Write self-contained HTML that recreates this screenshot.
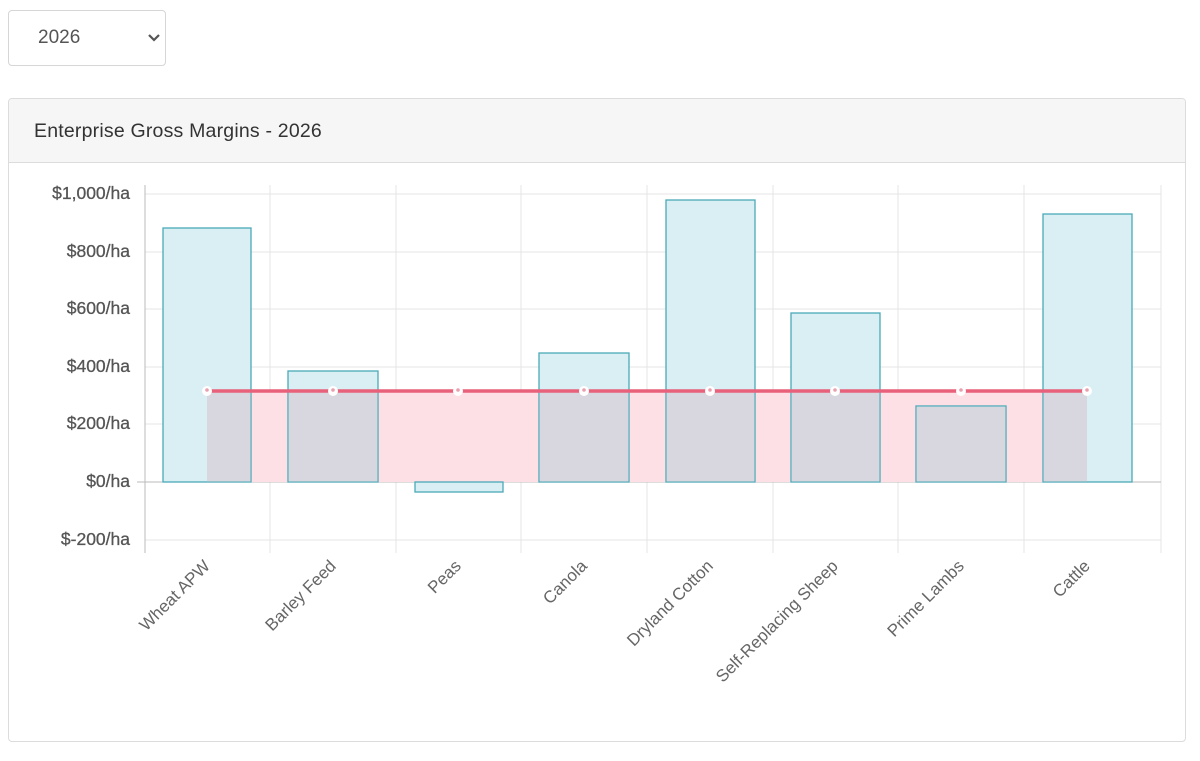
<!DOCTYPE html>
<html><head><meta charset="utf-8"><style>
body{margin:0;background:#fff;width:1200px;height:761px;overflow:hidden;font-family:"Liberation Sans",sans-serif;}
.sel{position:absolute;left:8px;top:10px;width:158px;height:56px;border:1px solid #d6d6d6;border-radius:4px;box-sizing:border-box;}
.sel span{position:absolute;left:29px;top:16px;font-size:19px;color:#555;}
.card{position:absolute;left:8px;top:98px;width:1178px;height:644px;border:1px solid #dcdcdc;border-radius:4px;box-sizing:border-box;overflow:hidden;}
.hd{height:63px;background:#f6f6f6;border-bottom:1px solid #dcdcdc;font-size:19.5px;color:#333;padding-left:25px;line-height:64px;letter-spacing:0.2px;}
svg{position:absolute;left:0;top:0;}
</style></head><body>
<div class="sel"><span>2026</span><svg width="158" height="56"><path d="M140 24 L145 29 L150 24" fill="none" stroke="#555" stroke-width="2.2"/></svg></div>
<div class="card"><div class="hd">Enterprise Gross Margins - 2026</div></div>
<svg width="1200" height="761" font-family="Liberation Sans, sans-serif">
<g stroke="#e4e4e4" stroke-width="1">
<line x1="145" y1="194" x2="1161" y2="194"/><line x1="145" y1="252" x2="1161" y2="252"/><line x1="145" y1="309" x2="1161" y2="309"/><line x1="145" y1="367" x2="1161" y2="367"/><line x1="145" y1="424" x2="1161" y2="424"/><line x1="145" y1="540" x2="1161" y2="540"/>
<line x1="270" y1="185" x2="270" y2="553"/><line x1="396" y1="185" x2="396" y2="553"/><line x1="521" y1="185" x2="521" y2="553"/><line x1="647" y1="185" x2="647" y2="553"/><line x1="773" y1="185" x2="773" y2="553"/><line x1="898" y1="185" x2="898" y2="553"/><line x1="1024" y1="185" x2="1024" y2="553"/><line x1="1161" y1="185" x2="1161" y2="553"/>
</g>
<line x1="145" y1="185" x2="145" y2="553" stroke="#bbb"/>
<line x1="137" y1="482" x2="1161" y2="482" stroke="#bbb"/>
<g fill="#555" font-size="17.5" text-anchor="end" stroke="#555" stroke-width="0.3">
<text x="130" y="199">$1,000/ha</text><text x="130" y="257">$800/ha</text><text x="130" y="314">$600/ha</text><text x="130" y="372">$400/ha</text><text x="130" y="429">$200/ha</text><text x="130" y="487">$0/ha</text><text x="130" y="545">$-200/ha</text>
</g>
<rect x="207" y="391" width="880" height="91" fill="#fde0e6"/>
<g fill="#d9eff4" stroke="#4aa9b8" stroke-width="1.3">
<rect x="163" y="228" width="88" height="254"/><rect x="288" y="371" width="90" height="111"/><rect x="415" y="482" width="88" height="10"/><rect x="539" y="353" width="90" height="129"/><rect x="666" y="200" width="89" height="282"/><rect x="791" y="313" width="89" height="169"/><rect x="916" y="406" width="90" height="76"/><rect x="1043" y="214" width="89" height="268"/>
</g>
<g fill="#d8d6de">
<rect x="207" y="392" width="43.5" height="89.5"/><rect x="288.7" y="392" width="88.6" height="89.5"/><rect x="539.7" y="392" width="88.6" height="89.5"/><rect x="666.7" y="392" width="87.6" height="89.5"/><rect x="791.7" y="392" width="87.6" height="89.5"/><rect x="916.7" y="406.7" width="88.6" height="74.8"/><rect x="1043.7" y="392" width="43.3" height="89.5"/>
</g>
<line x1="207" y1="391" x2="1087" y2="391" stroke="#e8607a" stroke-width="3.5"/>
<g fill="#fff">
<circle cx="207" cy="391" r="5"/><circle cx="333" cy="391" r="5"/><circle cx="458" cy="391" r="5"/><circle cx="584" cy="391" r="5"/><circle cx="710" cy="391" r="5"/><circle cx="835" cy="391" r="5"/><circle cx="961" cy="391" r="5"/><circle cx="1087" cy="391" r="5"/>
</g>
<g fill="#e8a0b0">
<circle cx="207" cy="390" r="1.8"/><circle cx="333" cy="390" r="1.8"/><circle cx="458" cy="390" r="1.8"/><circle cx="584" cy="390" r="1.8"/><circle cx="710" cy="390" r="1.8"/><circle cx="835" cy="390" r="1.8"/><circle cx="961" cy="390" r="1.8"/><circle cx="1087" cy="390" r="1.8"/>
</g>
<g fill="#666" font-size="17" text-anchor="end">
<text transform="translate(211,567) rotate(-45)">Wheat APW</text>
<text transform="translate(337,567) rotate(-45)">Barley Feed</text>
<text transform="translate(462,567) rotate(-45)">Peas</text>
<text transform="translate(588,567) rotate(-45)">Canola</text>
<text transform="translate(714,567) rotate(-45)">Dryland Cotton</text>
<text transform="translate(839,567) rotate(-45)">Self-Replacing Sheep</text>
<text transform="translate(965,567) rotate(-45)">Prime Lambs</text>
<text transform="translate(1091,567) rotate(-45)">Cattle</text>
</g>
</svg>
</body></html>
